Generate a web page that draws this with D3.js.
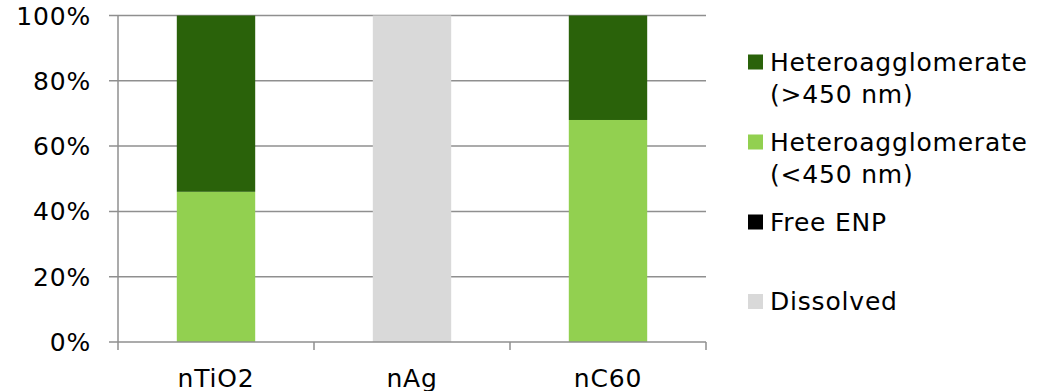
<!DOCTYPE html>
<html>
<head>
<meta charset="utf-8">
<script src="https://cdn.jsdelivr.net/npm/d3@7"></script>
<style>
  html, body { margin: 0; padding: 0; background: #fff; }
  svg { display: block; font-family: "DejaVu Sans", Verdana, sans-serif; }
  text { letter-spacing: 0.8px; }
</style>
</head>
<body>
<svg id="chart" width="1043" height="391"></svg>
<script>
// Nanoparticle fate fractions (percent), stacked bottom to top
const categories = ["nTiO2", "nAg", "nC60"];
const dissolved = [0, 100, 0];
const freeENP = [0, 0, 0];
const heteroSmall = [46, 0, 68];   // Heteroagglomerate (<450 nm)
const heteroLarge = [54, 0, 32];   // Heteroagglomerate (>450 nm)
const yTicks = [0, 20, 40, 60, 80, 100];

const seriesDefs = [
  { key: "dissolved", label: ["Dissolved"], values: dissolved, color: "#d9d9d9" },
  { key: "free", label: ["Free ENP"], values: freeENP, color: "#000000" },
  { key: "small", label: ["Heteroagglomerate", "(<450 nm)"], values: heteroSmall, color: "#92d050" },
  { key: "large", label: ["Heteroagglomerate", "(>450 nm)"], values: heteroLarge, color: "#2a620a" }
];

const rows = categories.map((c, i) => {
  const r = { category: c };
  seriesDefs.forEach(s => { r[s.key] = s.values[i]; });
  return r;
});

const svg = d3.select("#chart");
const plot = { left: 118, right: 706, top: 15.5, bottom: 342 };
const fontSize = 25;
const gridColor = "#8f8f8f";

const x = d3.scaleBand().domain(categories).range([plot.left, plot.right]).paddingInner(0.6).paddingOuter(0.3);
const y = d3.scaleLinear().domain([0, 100]).range([plot.bottom, plot.top]);

// horizontal gridlines with small stubs to the left of the axis
svg.append("g").selectAll("line").data(yTicks.filter(t => t > 0)).join("line")
  .attr("x1", plot.left - 9).attr("x2", plot.right)
  .attr("y1", d => y(d)).attr("y2", d => y(d))
  .attr("stroke", gridColor).attr("stroke-width", 1.5);

// stacked bars
const stack = d3.stack().keys(seriesDefs.map(s => s.key));
const layers = stack(rows);
svg.append("g").selectAll("g").data(layers).join("g")
  .attr("fill", (d, i) => seriesDefs[i].color)
  .selectAll("rect").data(d => d).join("rect")
  .attr("x", d => x(d.data.category))
  .attr("width", x.bandwidth())
  .attr("y", d => y(d[1]))
  .attr("height", d => y(d[0]) - y(d[1]));

// y axis line
svg.append("line")
  .attr("x1", plot.left).attr("x2", plot.left)
  .attr("y1", plot.top).attr("y2", plot.bottom)
  .attr("stroke", gridColor).attr("stroke-width", 1.5);

// baseline with its left stub
svg.append("line")
  .attr("x1", plot.left - 9).attr("x2", plot.right)
  .attr("y1", plot.bottom).attr("y2", plot.bottom)
  .attr("stroke", gridColor).attr("stroke-width", 1.5);

// category separators below the baseline
const sepX = d3.range(categories.length + 1).map(i => plot.left + i * (plot.right - plot.left) / categories.length);
svg.append("g").selectAll("line").data(sepX).join("line")
  .attr("x1", d => d).attr("x2", d => d)
  .attr("y1", plot.bottom).attr("y2", plot.bottom + 8)
  .attr("stroke", gridColor).attr("stroke-width", 1.5);

// y tick labels
svg.append("g").selectAll("text").data(yTicks).join("text")
  .attr("x", 91).attr("y", d => y(d))
  .attr("dy", "0.36em")
  .attr("text-anchor", "end")
  .attr("font-size", fontSize)
  .attr("fill", "#000")
  .text(d => d + "%");

// category labels
svg.append("g").selectAll("text").data(categories).join("text")
  .attr("x", d => x(d) + x.bandwidth() / 2)
  .attr("y", 386.5)
  .attr("text-anchor", "middle")
  .attr("font-size", fontSize)
  .attr("fill", "#000")
  .text(d => d);

// legend, top entry is the top of the stack
const legendItems = seriesDefs.slice().reverse();
const legend = svg.append("g");
const entryBaselines = [70.5, 150.5, 230.5, 310];
legendItems.forEach((s, i) => {
  const g = legend.append("g");
  g.append("rect")
    .attr("x", 748).attr("y", entryBaselines[i] - 16)
    .attr("width", 15).attr("height", 15)
    .attr("fill", s.color);
  const t = g.append("text")
    .attr("x", 770).attr("y", entryBaselines[i])
    .attr("font-size", fontSize)
    .attr("fill", "#000");
  s.label.forEach((line, j) => {
    t.append("tspan").attr("x", 770).attr("y", entryBaselines[i] + j * 32).text(line);
  });
});
</script>
</body>
</html>
